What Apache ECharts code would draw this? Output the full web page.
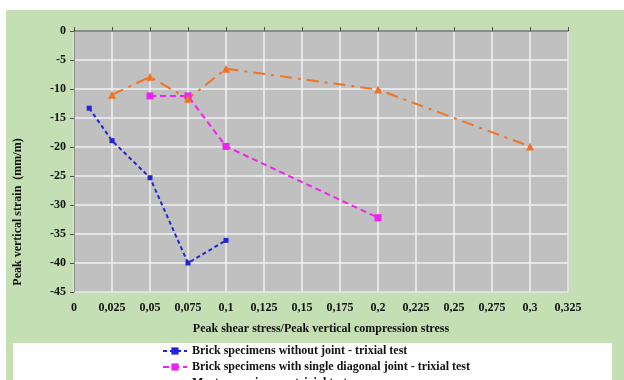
<!DOCTYPE html>
<html><head><meta charset="utf-8">
<script src="https://cdn.jsdelivr.net/npm/echarts@6/dist/echarts.min.js"></script>
<style>html,body{margin:0;padding:0;background:#fff}#c{width:624px;height:380px}</style>
</head><body><div id="c"></div>
<script>
const xTicks = [0,0.025,0.05,0.075,0.1,0.125,0.15,0.175,0.2,0.225,0.25,0.275,0.3,0.325];
const seriesNames = [
  "Brick specimens without joint - trixial test",
  "Brick specimens with single diagonal joint - trixial test",
  "Mortar specimens - trixial test"
];
const yTitle = "Peak vertical strain  (mm/m)";
const xTitle = "Peak shear stress/Peak vertical compression stress";
const brickX = [0.01,0.025,0.05,0.075,0.1];
const brickY = [-13.3,-18.9,-25.3,-40.0,-36.1];
const diagX = [0.05,0.075,0.1,0.2];
const diagY = [-11.2,-11.2,-19.9,-32.2];
const mortarX = [0.025,0.05,0.075,0.1,0.2,0.3];
const mortarY = [-11.0,-7.9,-11.7,-6.5,-10.1,-19.9];

const pair = (xs, ys) => xs.map((x,i)=>[x, ys[i]]);
const font = 'Liberation Serif';
const fmt = v => String(+v.toFixed(3)).replace('.', ',');
const txt = {fontFamily:font, fontWeight:'bold', fontSize:12, color:'#111'};
const legendTops = [345, 361, 377];

const chart = echarts.init(document.getElementById('c'));
chart.setOption({
  animation:false,
  backgroundColor:'#ffffff',
  graphic:[
    {type:'rect', z:-10, shape:{x:6,y:10,width:618,height:370}, style:{fill:'#c4dfb4'}},
    {type:'rect', z:-9, shape:{x:13,y:343,width:599,height:40}, style:{fill:'#ffffff'}},
    {type:'text', x:18, y:212, rotation:Math.PI/2, z:10,
     style:{text:yTitle, align:'center', verticalAlign:'middle', font:'bold 12px "Liberation Serif"', fill:'#111'}}
  ],
  grid:{left:74, top:31, width:494, height:261, show:true, backgroundColor:'#c0c0c0', borderColor:'#8a8a8a', borderWidth:1},
  xAxis:[
    {type:'value', min:0, max:0.325, interval:0.025, position:'bottom',
     axisLine:{show:false}, axisTick:{show:false},
     axisLabel:Object.assign({formatter:fmt, margin:10}, txt),
     splitLine:{show:true, lineStyle:{color:'#f2f2f2', width:1.5}},
     name:xTitle, nameLocation:'middle', nameGap:31, nameTextStyle:txt},
    {type:'value', min:0, max:0.325, interval:0.025, position:'top',
     axisLine:{show:true, onZero:false, lineStyle:{color:'#707070', width:1.5}},
     axisTick:{show:true, inside:false, length:4, lineStyle:{color:'#505050'}},
     axisLabel:{show:false}, splitLine:{show:false}}
  ],
  yAxis:{type:'value', min:-45, max:0, interval:5,
    axisLine:{show:true, onZero:false, lineStyle:{color:'#8a8a8a'}},
    axisTick:{show:true, length:4, lineStyle:{color:'#505050'}},
    axisLabel:Object.assign({margin:8}, txt),
    splitLine:{show:true, lineStyle:{color:'#f2f2f2', width:1.5}}},
  legend:seriesNames.map((n,i)=>({orient:'vertical', left:162, top:legendTops[i], itemGap:0,
    itemWidth:24, itemHeight:9, padding:0, textStyle:txt, data:[n]})),
  series:[
    {name:seriesNames[0], type:'line', data:pair(brickX,brickY), symbol:'rect', symbolSize:5,
     itemStyle:{color:'#2424d8'}, lineStyle:{color:'#2424d8', width:2, type:[4,3]}},
    {name:seriesNames[1], type:'line', data:pair(diagX,diagY), symbol:'rect', symbolSize:7,
     itemStyle:{color:'#ee22ee'}, lineStyle:{color:'#ee22ee', width:2, type:[6,4]}},
    {name:seriesNames[2], type:'line', data:pair(mortarX,mortarY), symbol:'triangle', symbolSize:8,
     itemStyle:{color:'#f07424'}, lineStyle:{color:'#f07424', width:2, type:[12,6,3,6]}}
  ]
});
</script></body></html>
